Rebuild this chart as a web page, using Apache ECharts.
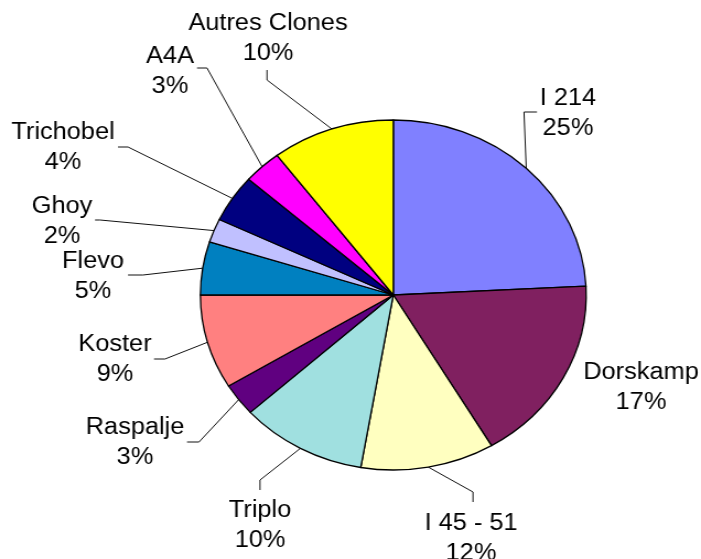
<!DOCTYPE html>
<html>
<head>
<meta charset="utf-8">
<script src="https://cdn.jsdelivr.net/npm/echarts@6/dist/echarts.min.js"></script>
<style>
  html, body { margin: 0; padding: 0; background: #fff; }
  #main { width: 636px; height: 559px; transform: scaleX(1.1022); transform-origin: 0 0; }
</style>
</head>
<body>
<div id="main"></div>
<script>
// clones (clockwise from 12 o'clock), share as drawn, and the percent printed on the chart
var clones = ['I 214', 'Dorskamp', 'I 45 - 51', 'Triplo', 'Raspalje', 'Koster', 'Flevo', 'Ghoy', 'Trichobel', 'A4A', 'Autres Clones'];
var shares = [24.2, 17.3, 11.2, 10.6, 3.0, 8.7, 4.9, 2.2, 4.4, 3.2, 10.3];
var pctLabels = ['25%', '17%', '12%', '10%', '3%', '9%', '5%', '2%', '4%', '3%', '10%'];
var colors = ['#8080ff', '#802060', '#ffffc0', '#a0e0e0', '#600080', '#ff8080', '#0080c0', '#c0c0ff', '#000080', '#ff00ff', '#ffff00'];

// picture is stretched horizontally, so the chart is drawn narrow then scaled
var SX = 1.1022;

// where each label sits (center) and its leader elbow / end, in page px
var labelSpots = [
  { c: [568, 114], elbow: [524, 112], end: [537, 112] },
  { c: [641, 388] },
  { c: [471, 539], elbow: [473, 492], end: [473, 502] },
  { c: [260, 526], elbow: [260, 480], end: [260, 490] },
  { c: [135, 443], elbow: [199, 442], end: [187, 442] },
  { c: [115, 360], elbow: [165, 359], end: [154, 359] },
  { c: [93, 277], elbow: [143, 275], end: [128, 275] },
  { c: [62, 222], elbow: [100, 220], end: [95, 220] },
  { c: [63, 148], elbow: [128, 147], end: [118, 147] },
  { c: [170, 72], elbow: [207, 68], end: [197, 68] },
  { c: [268, 39], elbow: [267, 80], end: [267, 70] }
];

var data = clones.map(function (name, i) {
  return {
    name: name,
    value: shares[i],
    itemStyle: { color: colors[i] },
    labelLine: { show: !!labelSpots[i].elbow }
  };
});

var myChart = echarts.init(document.getElementById('main'));
var option = {
  animation: false,
  series: [
    {
      type: 'pie',
      center: [393.3 / SX, 295],
      radius: 175,
      startAngle: 90,
      clockwise: true,
      avoidLabelOverlap: false,
      data: data,
      itemStyle: { borderColor: '#000', borderWidth: 1.3 },
      label: {
        show: true,
        position: 'outer',
        formatter: function (p) {
          return p.name + '\n' + pctLabels[p.dataIndex];
        },
        fontFamily: 'Liberation Sans, Arial, sans-serif',
        fontSize: 23,
        lineHeight: 30,
        color: '#000'
      },
      labelLine: {
        show: true,
        length: 20,
        length2: 10,
        lineStyle: { color: '#111', width: 1 }
      },
      labelLayout: function (params) {
        var s = labelSpots[params.dataIndex];
        var res = {
          x: s.c[0] / SX,
          y: s.c[1],
          align: 'center',
          verticalAlign: 'middle'
        };
        if (s.elbow && params.labelLinePoints) {
          res.labelLinePoints = [
            params.labelLinePoints[0],
            [s.elbow[0] / SX, s.elbow[1]],
            [s.end[0] / SX, s.end[1]]
          ];
        }
        return res;
      }
    }
  ]
};
myChart.setOption(option);
</script>
</body>
</html>
